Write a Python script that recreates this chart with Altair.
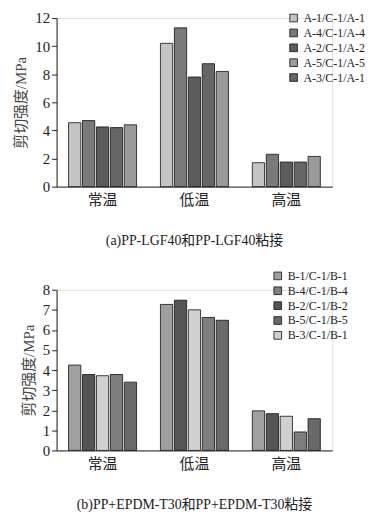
import altair as alt
import pandas as pd

cats = ["常温", "低温", "高温"]

# top chart (a)
a_series_legend = ["A-1/C-1/A-1", "A-4/C-1/A-4", "A-2/C-1/A-2", "A-5/C-1/A-5", "A-3/C-1/A-1"]
a_bar_order = ["A-1/C-1/A-1", "A-4/C-1/A-4", "A-2/C-1/A-2", "A-3/C-1/A-1", "A-5/C-1/A-5"]
a_colors = ["#c4c4c4", "#7a7a7a", "#5c5c5c", "#9a9a9a", "#666666"]
a_vals = {
    "A-1/C-1/A-1": [4.55, 10.2, 1.7],
    "A-4/C-1/A-4": [4.7, 11.3, 2.3],
    "A-2/C-1/A-2": [4.25, 7.8, 1.75],
    "A-3/C-1/A-1": [4.2, 8.75, 1.75],
    "A-5/C-1/A-5": [4.4, 8.2, 2.15],
}

# bottom chart (b)
b_series_legend = ["B-1/C-1/B-1", "B-4/C-1/B-4", "B-2/C-1/B-2", "B-5/C-1/B-5", "B-3/C-1/B-1"]
b_bar_order = ["B-1/C-1/B-1", "B-2/C-1/B-2", "B-3/C-1/B-1", "B-4/C-1/B-4", "B-5/C-1/B-5"]
b_colors = ["#a0a0a0", "#7e7e7e", "#555555", "#6a6a6a", "#d0d0d0"]
b_vals = {
    "B-1/C-1/B-1": [4.25, 7.27, 1.97],
    "B-2/C-1/B-2": [3.78, 7.48, 1.83],
    "B-3/C-1/B-1": [3.72, 7.0, 1.7],
    "B-4/C-1/B-4": [3.78, 6.62, 0.92],
    "B-5/C-1/B-5": [3.4, 6.48, 1.58],
}

FONT = "Liberation Serif, Noto Sans CJK SC"


def make_df(vals):
    rows = []
    for s, vs in vals.items():
        for c, v in zip(cats, vs):
            rows.append({"cat": c, "series": s, "value": v})
    return pd.DataFrame(rows)


def panel(df, legend_order, bar_order, colors, ymax, ystep, height, caption, lx, ly):
    ticks = list(range(0, ymax + 1, ystep))
    return alt.Chart(df).mark_bar(stroke="#111", strokeWidth=0.8).encode(
        x=alt.X("cat:N", sort=cats, title=None,
                scale=alt.Scale(paddingInner=0.26, paddingOuter=0.13),
                axis=alt.Axis(labelAngle=0, labelFontSize=15, labelPadding=6,
                              tickSize=0, domainColor="#222", labelColor="#222",
                              labelFont=FONT)),
        xOffset=alt.XOffset("series:N", sort=bar_order,
                            scale=alt.Scale(paddingInner=0.12)),
        y=alt.Y("value:Q", title="剪切强度/MPa",
                scale=alt.Scale(domain=[0, ymax], nice=False),
                axis=alt.Axis(values=ticks, grid=False, tickSize=5,
                              labelFontSize=15, titleFontSize=15,
                              titleFontWeight="normal", titleColor="#444",
                              labelColor="#222", domainColor="#222", tickColor="#222",
                              labelFont=FONT, titleFont=FONT, titlePadding=6)),
        color=alt.Color("series:N", sort=legend_order,
                        scale=alt.Scale(domain=legend_order, range=colors),
                        legend=alt.Legend(title=None, orient="none", legendX=lx, legendY=ly,
                                          symbolType="square", symbolSize=60,
                                          symbolStrokeColor="#111", symbolStrokeWidth=0.8,
                                          labelFontSize=12, labelFont=FONT, labelColor="#222",
                                          rowPadding=3, symbolOffset=0)),
    ).properties(
        width=278, height=height,
        title=alt.TitleParams(caption, orient="bottom", fontSize=14, font=FONT,
                              fontWeight="normal", color="#222", offset=27, anchor="middle"),
    )


top = panel(make_df(a_vals), a_series_legend, a_bar_order, a_colors, 12, 2, 170,
            "(a)PP-LGF40和PP-LGF40粘接", 233, -6)
bottom = panel(make_df(b_vals), b_series_legend, b_bar_order, b_colors, 8, 1, 162,
               "(b)PP+EPDM-T30和PP+EPDM-T30粘接", 217, -20)

chart = alt.vconcat(top, bottom, spacing=20).resolve_scale(
    color="independent", xOffset="independent", y="independent", x="independent"
).resolve_legend(color="independent").configure_view(stroke=None).configure(
    padding={"left": 5, "top": 0, "right": 0, "bottom": 0}
)

chart.save("out.html", embed_options={"renderer": "svg", "actions": False})
